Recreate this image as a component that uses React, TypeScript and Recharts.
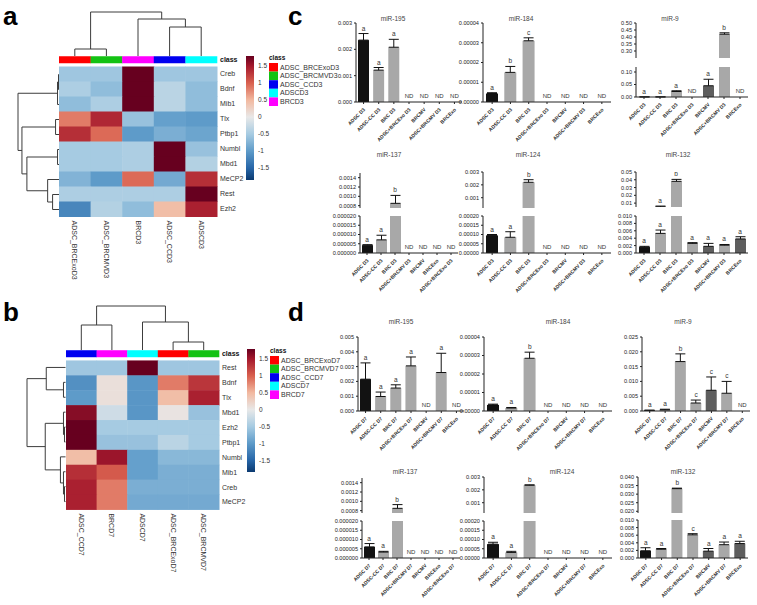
import React from "react";
import { Bar, Cell, ComposedChart, ErrorBar, Scatter, ScatterChart, XAxis, YAxis } from "recharts";

const FONT = "'Liberation Sans', Arial, Helvetica, sans-serif";
const INK = "#222";

// ---------- heatmap colour ramp (z-score) ----------
const HEAT_STOPS: [number, string][] = [
  [-1.85, "#0b3a70"],
  [-1.5, "#2766a8"],
  [-1.0, "#5e9bc9"],
  [-0.5, "#a6cbe2"],
  [0, "#e8e8e8"],
  [0.5, "#f2b9a0"],
  [1.0, "#d9614f"],
  [1.5, "#a5192d"],
  [1.8, "#67001f"],
];

function hexToRgb(h: string) {
  const n = parseInt(h.slice(1), 16);
  return [(n >> 16) & 255, (n >> 8) & 255, n & 255];
}

function heat(v: number) {
  const s = HEAT_STOPS;
  if (v <= s[0][0]) return s[0][1];
  if (v >= s[s.length - 1][0]) return s[s.length - 1][1];
  for (let i = 0; i < s.length - 1; i++) {
    const [v0, c0] = s[i];
    const [v1, c1] = s[i + 1];
    if (v >= v0 && v <= v1) {
      const t = (v - v0) / (v1 - v0);
      const a = hexToRgb(c0);
      const b = hexToRgb(c1);
      const m = a.map((x, k) => Math.round(x + (b[k] - x) * t));
      return `rgb(${m[0]},${m[1]},${m[2]})`;
    }
  }
  return s[0][1];
}

// ---------- panel a ----------
const genesA = ["Creb", "Bdnf", "Mib1", "Tlx", "Ptbp1", "Numbl", "Mbd1", "MeCP2", "Rest", "Ezh2"];
const samplesA = ["ADSC_BRCExoD3", "ADSC_BRCMVD3", "BRCD3", "ADSC_CCD3", "ADSCD3"];
const classA = ["#ff0000", "#13c213", "#ff00ff", "#0000f0", "#00ffff"];
const zA = [
  [-0.55, -0.55, 1.8, -0.55, -0.55],
  [-0.45, -0.65, 1.8, -0.35, -0.65],
  [-0.65, -0.45, 1.8, -0.35, -0.65],
  [0.85, 1.4, -0.6, -0.95, -1.0],
  [1.35, 0.95, -1.0, -0.8, -0.9],
  [-0.5, -0.5, -0.45, 1.8, -0.6],
  [-0.5, -0.5, -0.45, 1.8, -0.4],
  [-0.75, -1.0, 0.95, -0.85, 1.35],
  [-0.45, -0.45, -0.45, -0.45, 1.8],
  [-1.2, -0.4, -0.65, 0.45, 1.45],
];
// merges: [left, right, height]; ids >= n refer to earlier merges
const colTreeA: [number, number, number][] = [[0, 1, 7], [3, 4, 29], [2, 6, 37], [5, 7, 44]];
const rowTreeA: [number, number, number][] = [
  [0, 1, 1], [10, 2, 2], [3, 4, 4], [5, 6, 2], [8, 9, 7],
  [7, 14, 12], [13, 15, 33], [12, 16, 38], [11, 17, 42],
];
const legendA = ["ADSC_BRCExoD3", "ADSC_BRCMVD3", "ADSC_CCD3", "ADSCD3", "BRCD3"];

// ---------- panel b ----------
const genesB = ["Rest", "Bdnf", "Tlx", "Mbd1", "Ezh2", "Ptbp1", "Numbl", "Mib1", "Creb", "MeCP2"];
const samplesB = ["ADSC_CCD7", "BRCD7", "ADSCD7", "ADSC_BRCExoD7", "ADSC_BRCMVD7"];
const classB = ["#0000f0", "#ff00ff", "#00ffff", "#ff0000", "#13c213"];
const zB = [
  [-0.55, -0.55, 1.8, -0.55, -0.55],
  [-1.1, 0.1, -1.05, 0.85, 1.3],
  [-1.0, 0.1, -1.05, 0.45, 1.45],
  [1.65, -0.2, -1.05, 0.05, -0.6],
  [1.8, -0.5, -0.5, -0.5, -0.5],
  [1.8, -0.6, -0.6, -0.35, -0.5],
  [0.45, 1.55, -0.95, -0.7, -0.7],
  [1.35, 1.05, -0.95, -0.8, -0.8],
  [1.45, 0.85, -0.8, -0.8, -0.8],
  [1.45, 0.85, -0.85, -0.85, -0.85],
];
const colTreeB: [number, number, number][] = [[3, 4, 8], [0, 1, 25], [2, 5, 28], [6, 7, 44]];
const rowTreeB: [number, number, number][] = [
  [4, 5, 1], [3, 10, 2], [8, 9, 1], [7, 12, 2], [6, 13, 5],
  [11, 14, 20], [1, 2, 2], [0, 16, 19], [17, 15, 38],
];
const legendB = ["ADSC_BRCExoD7", "ADSC_BRCMVD7", "ADSC_CCD7", "ADSCD7", "BRCD7"];
const legendColors = ["#ff0000", "#13c213", "#0000f0", "#00ffff", "#ff00ff"];
const colorbarTicks = [1.5, 1, 0.5, 0, -0.5, -1, -1.5];

// ---------- bar charts (qPCR, relative expression) ----------
const catsD3 = ["ADSC D3", "ADSC-CC D3", "BRC D3", "ADSC+BRCExo D3", "BRCMV", "ADSC+BRCMV D3", "BRCExo"];
const cats137D3 = ["ADSC D3", "ADSC-CC D3", "BRC D3", "ADSC+BRCMV D3", "BRCMV", "BRCExo", "ADSC+BRCExo D3"];
const catsD7 = ["ADSC D7", "ADSC-CC D7", "BRC D7", "ADSC+BRCExo D7", "BRCMV", "ADSC+BRCMV D7", "BRCExo"];
const cats137D7 = ["ADSC D7", "ADSC-CC D7", "BRC D7", "ADSC+BRCMV D7", "BRCMV", "BRCExo", "ADSC+BRCExo D7"];

const mir195D3 = [0.00235, 0.00121, 0.00208, null, null, null, null];
const mir195D3Err = [0.00025, 0.0001, 0.0003, 0, 0, 0, 0];
const mir195D3Sig = ["a", "a", "a", "ND", "ND", "ND", "ND"];

const mir184D3 = [0.0000043, 0.000015, 0.000031, null, null, null, null];
const mir184D3Err = [0.0000004, 0.000003, 0.0000015, 0, 0, 0, 0];
const mir184D3Sig = ["a", "b", "c", "ND", "ND", "ND", "ND"];

const mir9D3 = [0.0004, 0.0004, 0.022, null, 0.045, 0.42, null];
const mir9D3Err = [0, 0, 0.003, 0, 0.026, 0.01, 0];
const mir9D3Sig = ["a", "a", "a", "ND", "a", "b", "ND"];

const mir137D3 = [0.0000042, 0.0000071, 0.00085, null, null, null, null];
const mir137D3Err = [0.0000003, 0.0000025, 0.00017, 0, 0, 0, 0];
const mir137D3Sig = ["a", "a", "b", "ND", "ND", "ND", "ND"];

const mir124D3 = [0.000095, 0.000085, 0.0022, null, null, null, null];
const mir124D3Err = [0.000005, 0.00003, 0.0002, 0, 0, 0, 0];
const mir124D3Sig = ["a", "a", "b", "ND", "ND", "ND", "ND"];

const mir132D3 = [0.0016, 0.0053, 0.038, 0.0026, 0.0018, 0.0021, 0.0038];
const mir132D3Err = [0.0002, 0.0009, 0.0025, 0.0002, 0.0008, 0.0002, 0.0006];
const mir132D3Sig = ["a", "a", "b", "a", "a", "a", "a"];

const mir195D7 = [0.00215, 0.00098, 0.00155, 0.00305, null, 0.0026, null];
const mir195D7Err = [0.0011, 0.0003, 0.00022, 0.0006, 0, 0.0013, 0];
const mir195D7Sig = ["a", "a", "a", "a", "ND", "a", "ND"];

const mir184D7 = [0.0000033, 0.0000016, 0.0000285, null, null, null, null];
const mir184D7Err = [0.0000004, 0.0000003, 0.0000033, 0, 0, 0, 0];
const mir184D7Sig = ["a", "a", "b", "ND", "ND", "ND", "ND"];

const mir9D7 = [0.0002, 0.0004, 0.0167, 0.0027, 0.007, 0.006, null];
const mir9D7Err = [0.0001, 0.0002, 0.0026, 0.001, 0.0045, 0.004, 0];
const mir9D7Sig = ["a", "a", "b", "c", "c", "c", "ND"];

const mir137D7 = [0.000006, 0.0000032, 0.00085, null, null, null, null];
const mir137D7Err = [0.0000018, 0.0000004, 0.00008, 0, 0, 0, 0];
const mir137D7Sig = ["a", "a", "b", "ND", "ND", "ND", "ND"];

const mir124D7 = [0.000075, 0.00003, 0.00236, null, null, null, null];
const mir124D7Err = [0.00001, 0.000006, 0.00003, 0, 0, 0, 0];
const mir124D7Sig = ["a", "a", "b", "ND", "ND", "ND", "ND"];

const mir132D7 = [0.0019, 0.0023, 0.0332, 0.0061, 0.0018, 0.0035, 0.0038];
const mir132D7Err = [0.0008, 0.0002, 0.0003, 0.0003, 0.0007, 0.0007, 0.0006];
const mir132D7Sig = ["a", "a", "b", "c", "a", "a", "a"];

const toneBasic = ["k", "g", "g", "g", "g", "g", "g"];
const toneMV = ["k", "g", "g", "g", "d", "g", "g"];
const toneMVExo = ["k", "g", "g", "g", "d", "g", "d"];
const TONE: Record<string, string> = { k: "#121212", g: "#a8a8a8", d: "#5e5e5e" };

// y tick labels
const ticks195D3 = [0, 0.001, 0.002, 0.003];
const ticks184 = [0, 0.00001, 0.00002, 0.00003, 0.00004];
const ticks9D3Hi = [0.3, 0.35, 0.4, 0.45, 0.5];
const ticks9D3Lo = [0, 0.05, 0.1];
const ticks137Hi = [0.0008, 0.001, 0.0012, 0.0014];
const ticks137Lo = [0, 0.000005, 0.00001, 0.000015, 0.00002];
const ticks124Hi = [0.001, 0.002, 0.003];
const ticks124Lo = [0, 0.00005, 0.0001, 0.00015, 0.0002];
const ticks132D3Hi = [0.01, 0.02, 0.03, 0.04, 0.05];
const ticks132Lo = [0, 0.002, 0.004, 0.006, 0.008, 0.01];
const ticks195D7 = [0, 0.001, 0.002, 0.003, 0.004, 0.005];
const ticks9D7 = [0, 0.005, 0.01, 0.015, 0.02, 0.025];
const ticks132D7Hi = [0.02, 0.025, 0.03, 0.035, 0.04];

type Seg = { top: number; bottom: number; domain: [number, number]; ticks: number[]; dec: number };
type Spec = {
  title: string; tx: number; ty: number; ax: number; w: number;
  cats: string[]; vals: (number | null)[]; errs: number[]; sig: string[]; tone: string[];
  lower: Seg; upper?: Seg;
};

const SPECS: Spec[] = [
  { title: "miR-195", tx: 393, ty: 21, ax: 356, w: 106, cats: catsD3, vals: mir195D3, errs: mir195D3Err, sig: mir195D3Sig, tone: toneBasic,
    lower: { top: 23, bottom: 102, domain: [0, 0.003], ticks: ticks195D3, dec: 3 } },
  { title: "miR-184", tx: 521, ty: 21, ax: 483, w: 128, cats: catsD3, vals: mir184D3, errs: mir184D3Err, sig: mir184D3Sig, tone: toneBasic,
    lower: { top: 23, bottom: 102, domain: [0, 0.00004], ticks: ticks184, dec: 5 } },
  { title: "miR-9", tx: 670, ty: 21, ax: 636, w: 112, cats: catsD3, vals: mir9D3, errs: mir9D3Err, sig: mir9D3Sig, tone: toneMV,
    upper: { top: 23, bottom: 58, domain: [0.25, 0.5], ticks: ticks9D3Hi, dec: 2 },
    lower: { top: 67, bottom: 97, domain: [0, 0.12], ticks: ticks9D3Lo, dec: 2 } },
  { title: "miR-137", tx: 389, ty: 157, ax: 360, w: 98, cats: cats137D3, vals: mir137D3, errs: mir137D3Err, sig: mir137D3Sig, tone: toneBasic,
    upper: { top: 173, bottom: 208, domain: [0.00075, 0.0015], ticks: ticks137Hi, dec: 4 },
    lower: { top: 216, bottom: 253, domain: [0, 0.00002], ticks: ticks137Lo, dec: 6 } },
  { title: "miR-124", tx: 528, ty: 157, ax: 483, w: 128, cats: catsD3, vals: mir124D3, errs: mir124D3Err, sig: mir124D3Sig, tone: toneBasic,
    upper: { top: 172, bottom: 208, domain: [0.0002, 0.003], ticks: ticks124Hi, dec: 3 },
    lower: { top: 216, bottom: 253, domain: [0, 0.0002], ticks: ticks124Lo, dec: 5 } },
  { title: "miR-132", tx: 678, ty: 157, ax: 636, w: 112, cats: catsD3, vals: mir132D3, errs: mir132D3Err, sig: mir132D3Sig, tone: toneMVExo,
    upper: { top: 172, bottom: 207, domain: [0.005, 0.05], ticks: ticks132D3Hi, dec: 2 },
    lower: { top: 216, bottom: 253, domain: [0, 0.01], ticks: ticks132Lo, dec: 3 } },
  { title: "miR-195", tx: 401, ty: 324, ax: 358, w: 106, cats: catsD7, vals: mir195D7, errs: mir195D7Err, sig: mir195D7Sig, tone: toneBasic,
    lower: { top: 337, bottom: 411, domain: [0, 0.005], ticks: ticks195D7, dec: 3 } },
  { title: "miR-184", tx: 558, ty: 324, ax: 484, w: 128, cats: catsD7, vals: mir184D7, errs: mir184D7Err, sig: mir184D7Sig, tone: toneBasic,
    lower: { top: 337, bottom: 411, domain: [0, 0.00004], ticks: ticks184, dec: 5 } },
  { title: "miR-9", tx: 683, ty: 324, ax: 642, w: 108, cats: catsD7, vals: mir9D7, errs: mir9D7Err, sig: mir9D7Sig, tone: toneMV,
    lower: { top: 337, bottom: 411, domain: [0, 0.025], ticks: ticks9D7, dec: 3 } },
  { title: "miR-137", tx: 405, ty: 474, ax: 362, w: 98, cats: cats137D7, vals: mir137D7, errs: mir137D7Err, sig: mir137D7Sig, tone: toneBasic,
    upper: { top: 478, bottom: 513, domain: [0.00075, 0.0015], ticks: ticks137Hi, dec: 4 },
    lower: { top: 521, bottom: 558, domain: [0, 0.00002], ticks: ticks137Lo, dec: 6 } },
  { title: "miR-124", tx: 562, ty: 474, ax: 484, w: 128, cats: catsD7, vals: mir124D7, errs: mir124D7Err, sig: mir124D7Sig, tone: toneBasic,
    upper: { top: 477, bottom: 513, domain: [0.0002, 0.003], ticks: ticks124Hi, dec: 3 },
    lower: { top: 521, bottom: 558, domain: [0, 0.0002], ticks: ticks124Lo, dec: 5 } },
  { title: "miR-132", tx: 683, ty: 474, ax: 638, w: 110, cats: catsD7, vals: mir132D7, errs: mir132D7Err, sig: mir132D7Sig, tone: toneMVExo,
    upper: { top: 477, bottom: 513, domain: [0.019, 0.04], ticks: ticks132D7Hi, dec: 3 },
    lower: { top: 520, bottom: 558, domain: [0, 0.01], ticks: ticks132Lo, dec: 3 } },
];

// ---------- dendrogram ----------
function treeSegments(n: number, merges: [number, number, number][]) {
  const pos: number[] = [];
  const hgt: number[] = [];
  for (let i = 0; i < n; i++) {
    pos.push(i + 0.5);
    hgt.push(0);
  }
  return merges.map(([a, b, h]) => {
    const seg = [[pos[a], hgt[a]], [pos[a], h], [pos[b], h], [pos[b], hgt[b]]];
    pos.push((pos[a] + pos[b]) / 2);
    hgt.push(h);
    return seg;
  });
}

const NoDot = () => <g />;

function Dendro({ n, merges, orient, left, top, width, height }: {
  n: number; merges: [number, number, number][]; orient: "top" | "left";
  left: number; top: number; width: number; height: number;
}) {
  const maxH = Math.max(...merges.map((m) => m[2]));
  const paths = treeSegments(n, merges).map((seg) =>
    seg.map(([p, h]) => (orient === "top" ? { x: p, y: h } : { x: h, y: p }))
  );
  const isTop = orient === "top";
  return (
    <div style={{ position: "absolute", left: left - 2, top: top - 2 }}>
      <ScatterChart width={width + 4} height={height + 4} margin={{ top: 2, right: 2, bottom: 2, left: 2 }}>
        <XAxis type="number" dataKey="x" domain={isTop ? [0, n] : [0, maxH]} reversed={!isTop} hide />
        <YAxis type="number" dataKey="y" domain={isTop ? [0, maxH] : [0, n]} reversed={!isTop} hide />
        {paths.map((d, i) => (
          <Scatter key={i} data={d} line={{ stroke: "#3c3c3c", strokeWidth: 1 }} shape={NoDot} isAnimationActive={false} />
        ))}
      </ScatterChart>
    </div>
  );
}

// ---------- heatmap ----------
function Heatmap({ genes, samples, z, classColors, left, top, width, rowH }: {
  genes: string[]; samples: string[]; z: number[][]; classColors: string[];
  left: number; top: number; width: number; rowH: number;
}) {
  const nR = genes.length;
  const nC = samples.length;
  const cellW = width / nC;
  const height = rowH * (nR + 0.7);
  const cells = z.flatMap((row, i) => row.map((v, j) => ({ x: j + 0.5, y: i + 0.5, v })));
  const classRow = classColors.map((col, j) => ({ x: j + 0.5, y: -0.45, col }));
  const rowTicks = [-0.45, ...genes.map((_, i) => i + 0.5)];
  const colTicks = samples.map((_, j) => j + 0.5);

  const CellShape = (p: any) => (
    <rect x={p.cx - cellW / 2} y={p.cy - rowH / 2} width={cellW + 0.5} height={rowH + 0.5} fill={heat(p.payload.v)} />
  );
  const ClassShape = (p: any) => (
    <rect x={p.cx - cellW / 2} y={p.cy - 3.5} width={cellW + 0.3} height={7} fill={p.payload.col} />
  );
  const RowTick = (p: any) => {
    const v = p.payload.value;
    const isClass = v < 0;
    return (
      <text x={p.x} y={p.y} dy="0.35em" fontSize={7} fill={isClass ? "#111" : "#333"} fontWeight={isClass ? "bold" : "normal"}>
        {isClass ? "class" : genes[Math.floor(v)]}
      </text>
    );
  };
  const ColTick = (p: any) => (
    <text x={p.x} y={p.y} dy="0.35em" transform={`rotate(90 ${p.x} ${p.y})`} fontSize={7} fill="#333">
      {samples[Math.floor(p.payload.value)]}
    </text>
  );

  return (
    <div style={{ position: "absolute", left, top }}>
      <ScatterChart width={width + 48} height={height + 80} margin={{ top: 0, right: 0, bottom: 0, left: 0 }}>
        <XAxis type="number" dataKey="x" domain={[0, nC]} ticks={colTicks} interval={0} height={80}
          axisLine={false} tickLine={false} tickSize={0} tickMargin={4} tick={ColTick} />
        <YAxis type="number" dataKey="y" domain={[-0.7, nR]} reversed orientation="right" ticks={rowTicks} interval={0}
          width={48} axisLine={false} tickLine={false} tickSize={0} tickMargin={3} tick={RowTick} />
        <Scatter data={cells} shape={CellShape} isAnimationActive={false} />
        <Scatter data={classRow} shape={ClassShape} isAnimationActive={false} />
      </ScatterChart>
    </div>
  );
}

function ColorLegend({ x, top, bottom, names, gradId }: { x: number; top: number; bottom: number; names: string[]; gradId: string }) {
  const vTop = 1.8;
  const vBot = -1.85;
  const k = (bottom - top) / (vTop - vBot);
  return (
    <g>
      <defs>
        <linearGradient id={gradId} x1="0" y1="0" x2="0" y2="1">
          {HEAT_STOPS.slice().reverse().map(([v, c]) => (
            <stop key={v} offset={Math.min(1, Math.max(0, (vTop - v) / (vTop - vBot)))} stopColor={c} />
          ))}
        </linearGradient>
      </defs>
      <rect x={x} y={top} width={8} height={bottom - top} fill={`url(#${gradId})`} />
      {colorbarTicks.map((t) => (
        <text key={t} x={x + 12} y={top + (vTop - t) * k + 2.3} fontSize={6.5} fill="#333">{t}</text>
      ))}
      <text x={x + 23} y={top + 4} fontSize={6.5} fontWeight="bold" fill="#111">class</text>
      {names.map((nm, i) => (
        <g key={nm}>
          <rect x={x + 23} y={top + 7 + i * 8.6} width={9} height={8.6} fill={legendColors[i]} />
          <text x={x + 34} y={top + 13.5 + i * 8.6} fontSize={7} fill="#333">{nm}</text>
        </g>
      ))}
    </g>
  );
}

// ---------- bar panels ----------
const YW = 42;
const MT = 4;
const XH = 42;

function segRows(spec: Spec, seg: Seg, part: "upper" | "lower") {
  const [lo, hi] = seg.domain;
  return spec.cats.map((c, i) => {
    const v = spec.vals[i];
    const e = spec.errs[i] ?? 0;
    const row: any = { c, bv: null, eb: null, ly: null, s: spec.sig[i], fill: TONE[spec.tone[i]] };
    if (v == null) {
      if (part === "lower") row.ly = 0;
      return row;
    }
    if (part === "lower") {
      row.bv = Math.min(v, hi);
      if (v + e <= hi) {
        row.eb = [0, e];
        row.ly = v + e;
      }
    } else if (v > lo) {
      row.bv = v;
      row.eb = [0, e];
      row.ly = v + e;
    }
    return row;
  });
}

const SlantTick = (p: any) => {
  const x = p.x + 2;
  const y = p.y + 4;
  return (
    <text x={x} y={y} transform={`rotate(-45 ${x} ${y})`} textAnchor="end" fontSize={5} fontWeight="bold" fill="#2a2a2a">
      {p.payload.value}
    </text>
  );
};

const SigMark = (p: any) => {
  if (!p.payload || p.payload.ly == null || !Number.isFinite(p.cy)) return <g />;
  const nd = p.payload.s === "ND";
  return (
    <text x={p.cx} y={p.cy - (nd ? 4 : 3)} textAnchor="middle" fontSize={nd ? 6 : 6.5} fill="#333">
      {p.payload.s}
    </text>
  );
};

function SegChart({ spec, seg, part }: { spec: Spec; seg: Seg; part: "upper" | "lower" }) {
  const data = segRows(spec, seg, part);
  const h = seg.bottom - seg.top;
  const showX = part === "lower";
  return (
    <div style={{ position: "absolute", left: spec.ax - YW, top: seg.top - MT }}>
      <ComposedChart width={YW + spec.w + 2} height={MT + h + (showX ? XH : 0)} data={data}
        margin={{ top: MT, right: 2, bottom: 0, left: 0 }}>
        <XAxis dataKey="c" type="category" hide={!showX} height={XH} interval={0} tick={SlantTick} tickSize={2}
          axisLine={{ stroke: INK }} tickLine={{ stroke: INK }} />
        <YAxis type="number" domain={seg.domain} ticks={seg.ticks} interval={0} allowDataOverflow width={YW} tickSize={2}
          tick={{ fontSize: 5.6, fill: INK }} tickFormatter={(v: number) => v.toFixed(seg.dec)}
          axisLine={{ stroke: INK }} tickLine={{ stroke: INK }} />
        <Bar dataKey="bv" barSize={spec.w > 120 ? 12 : 11} isAnimationActive={false}>
          {data.map((d, i) => <Cell key={i} fill={d.fill} />)}
          <ErrorBar dataKey="eb" width={5} stroke="#111" strokeWidth={1} direction="y" />
        </Bar>
        <Scatter dataKey="ly" shape={SigMark} isAnimationActive={false} />
      </ComposedChart>
    </div>
  );
}

function BarPanel({ spec }: { spec: Spec }) {
  return (
    <>
      {spec.upper && <SegChart spec={spec} seg={spec.upper} part="upper" />}
      <SegChart spec={spec} seg={spec.lower} part="lower" />
    </>
  );
}

export default function App() {
  return (
    <div style={{ position: "absolute", left: 0, top: 0, width: 757, height: 605, background: "#fff", overflow: "hidden", fontFamily: FONT }}>
      {/* panel a */}
      <Dendro n={5} merges={colTreeA} orient="top" left={59} top={12} width={158} height={44} />
      <Dendro n={10} merges={rowTreeA} orient="left" left={18} top={66.5} width={41.5} height={150} />
      <Heatmap genes={genesA} samples={samplesA} z={zA} classColors={classA} left={59} top={56} width={158} rowH={15} />

      {/* panel b */}
      <Dendro n={5} merges={colTreeB} orient="top" left={66} top={306} width={153} height={44} />
      <Dendro n={10} merges={rowTreeB} orient="left" left={27} top={360.4} width={38.5} height={149} />
      <Heatmap genes={genesB} samples={samplesB} z={zB} classColors={classB} left={66} top={350} width={153} rowH={14.9} />

      {/* panels c, d */}
      {SPECS.map((s, i) => <BarPanel key={i} spec={s} />)}

      <svg width={757} height={605} style={{ position: "absolute", left: 0, top: 0, pointerEvents: "none", fontFamily: FONT }}>
        <text x={3} y={25} fontSize={26} fontWeight="bold" fill="#000">a</text>
        <text x={3} y={321} fontSize={26} fontWeight="bold" fill="#000">b</text>
        <text x={288} y={25} fontSize={26} fontWeight="bold" fill="#000">c</text>
        <text x={288} y={321} fontSize={26} fontWeight="bold" fill="#000">d</text>
        <ColorLegend x={246} top={56} bottom={180} names={legendA} gradId="cbA" />
        <ColorLegend x={247} top={349} bottom={472} names={legendB} gradId="cbB" />
        {SPECS.map((s, i) => (
          <text key={i} x={s.tx} y={s.ty} textAnchor="middle" fontSize={6.5} fill="#444">{s.title}</text>
        ))}
      </svg>
    </div>
  );
}
